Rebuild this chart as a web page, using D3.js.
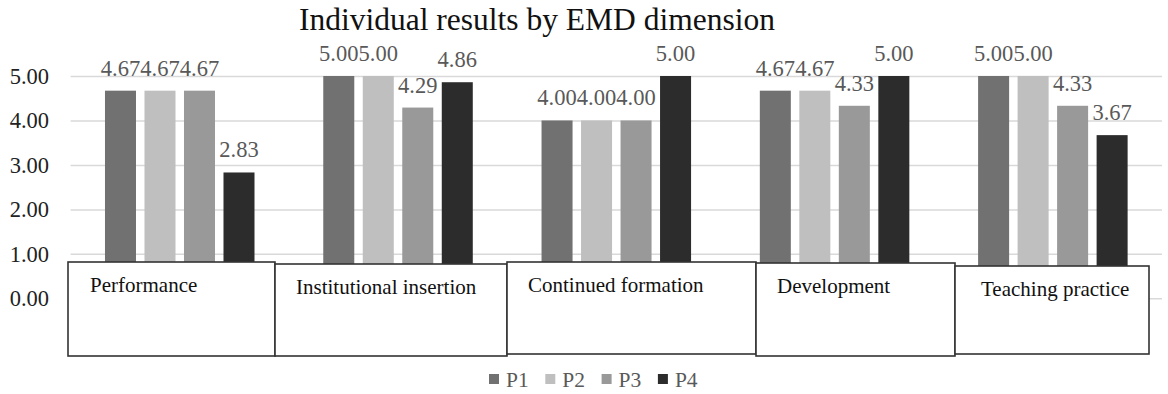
<!DOCTYPE html>
<html>
<head>
<meta charset="utf-8">
<script src="https://cdn.jsdelivr.net/npm/d3@7"></script>
<style>
  body { margin: 0; background: #fff; }
  svg text { font-family: "Liberation Serif", "Times New Roman", serif; }
</style>
</head>
<body>
<script>
// data
const categories = ["Performance", "Institutional insertion", "Continued formation", "Development", "Teaching practice"];
const seriesNames = ["P1", "P2", "P3", "P4"];
const p1 = [4.67, 5.00, 4.00, 4.67, 5.00];
const p2 = [4.67, 5.00, 4.00, 4.67, 5.00];
const p3 = [4.67, 4.29, 4.00, 4.33, 4.33];
const p4 = [2.83, 4.86, 5.00, 5.00, 3.67];
const yTicks = [0, 1, 2, 3, 4, 5];
const colors = ["#717171", "#bfbfbf", "#999999", "#2c2c2c"];

// the label boxes were drawn by hand over the axis, so they are laid out by pixel
const labelBoxes = [
  { x0: 68, x1: 275, y0: 262, y1: 356, dx: 22 },
  { x0: 275, x1: 507, y0: 264, y1: 356, dx: 21 },
  { x0: 507, x1: 756, y0: 262, y1: 354, dx: 21 },
  { x0: 756, x1: 955, y0: 263, y1: 356, dx: 21 },
  { x0: 955, x1: 1149, y0: 266, y1: 354, dx: 26 }
];

const W = 1168, H = 394;
const plot = { left: 70.6, right: 1162, top: 76, bottom: 298.3 };
const serif = "'Liberation Serif', 'Times New Roman', serif";

const svg = d3.select("body").append("svg")
  .attr("width", W)
  .attr("height", H);

const series = seriesNames.map((name, i) => ({ name, values: [p1, p2, p3, p4][i] }));

const x0 = d3.scaleBand()
  .domain(categories)
  .range([plot.left, plot.right])
  .paddingInner(0.315)
  .paddingOuter(0.1575);

const x1 = d3.scaleBand()
  .domain(seriesNames)
  .range([0, x0.bandwidth()])
  .paddingInner(0.215);

const y = d3.scaleLinear()
  .domain([0, 5])
  .range([plot.bottom, plot.top]);

// title
svg.append("text")
  .attr("x", 537)
  .attr("y", 30)
  .attr("text-anchor", "middle")
  .attr("font-size", 31.5)
  .attr("fill", "#111")
  .text("Individual results by EMD dimension");

// y axis with gridlines
const yAxis = svg.append("g")
  .attr("transform", "translate(" + plot.left + ",0)")
  .call(d3.axisLeft(y)
    .tickValues(yTicks)
    .tickSize(-(plot.right - plot.left))
    .tickPadding(21.6)
    .tickFormat(d3.format(".2f")));

yAxis.select(".domain").remove();
yAxis.selectAll(".tick line")
  .attr("stroke", "#d9d9d9")
  .attr("stroke-width", 1.5);
yAxis.selectAll(".tick text")
  .attr("font-size", 22.5)
  .attr("fill", "#222");

// bars
const groups = svg.selectAll(".series")
  .data(series)
  .enter()
  .append("g")
  .attr("class", "series");

groups.selectAll("rect")
  .data((s, i) => s.values.map((v, j) => ({ cat: categories[j], name: s.name, v, i })))
  .enter()
  .append("rect")
  .attr("x", d => x0(d.cat) + x1(d.name))
  .attr("y", d => y(d.v))
  .attr("width", x1.bandwidth())
  .attr("height", d => y(0) - y(d.v))
  .attr("fill", d => colors[d.i]);

// value labels
groups.selectAll("text")
  .data((s, i) => s.values.map((v, j) => ({ cat: categories[j], name: s.name, v })))
  .enter()
  .append("text")
  .attr("x", d => x0(d.cat) + x1(d.name) + x1.bandwidth() / 2)
  .attr("y", d => y(d.v) - 15)
  .attr("text-anchor", "middle")
  .attr("font-size", 22.5)
  .attr("fill", "#595959")
  .text(d => d.v.toFixed(2));

// category boxes laid over the bottom of the bars
const boxes = svg.selectAll(".catbox")
  .data(labelBoxes)
  .enter()
  .append("g")
  .attr("class", "catbox");

boxes.append("rect")
  .attr("x", d => d.x0)
  .attr("y", d => d.y0)
  .attr("width", d => d.x1 - d.x0)
  .attr("height", d => d.y1 - d.y0)
  .attr("fill", "#fff")
  .attr("stroke", "#333")
  .attr("stroke-width", 1.6);

boxes.append("text")
  .attr("x", d => d.x0 + d.dx)
  .attr("y", d => d.y0 + 29.5)
  .attr("font-size", 21)
  .attr("fill", "#111")
  .text((d, i) => categories[i]);

// legend
const legend = svg.append("g")
  .attr("transform", "translate(489,374)");

const item = legend.selectAll("g")
  .data(seriesNames)
  .enter()
  .append("g")
  .attr("transform", (d, i) => "translate(" + (i * 56.3) + ",0)");

item.append("rect")
  .attr("width", 10)
  .attr("height", 10)
  .attr("fill", (d, i) => colors[i]);

item.append("text")
  .attr("x", 17)
  .attr("y", 12.5)
  .attr("font-size", 21.5)
  .attr("fill", "#595959")
  .text(d => d);

// every text in the serif face, overriding the axis default
svg.selectAll("text").style("font-family", serif);
</script>
</body>
</html>
